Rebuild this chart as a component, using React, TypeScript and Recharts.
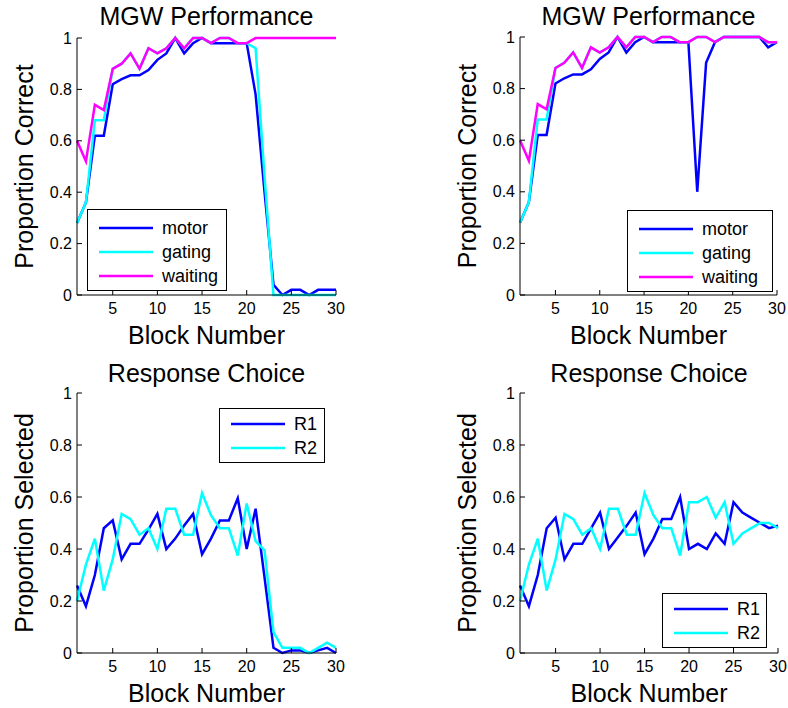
import { Label, Legend, Line, LineChart, XAxis, YAxis } from "recharts";

const blocks = [1, 2, 3, 4, 5, 6, 7, 8, 9, 10, 11, 12, 13, 14, 15, 16, 17, 18, 19, 20, 21, 22, 23, 24, 25, 26, 27, 28, 29, 30];
const xTicks = [5, 10, 15, 20, 25, 30];
const yTicks = [0, 0.2, 0.4, 0.6, 0.8, 1];

// MGW performance, left panel
const motorA = [0.28, 0.36, 0.62, 0.62, 0.82, 0.84, 0.855, 0.855, 0.875, 0.915, 0.94, 1, 0.94, 0.98, 1, 0.98, 0.98, 0.98, 0.98, 0.98, 0.78, 0.4, 0.04, 0, 0.02, 0.02, 0, 0.02, 0.02, 0.02];
const gatingA = [0.28, 0.36, 0.68, 0.68, 0.88, 0.9, 0.94, 0.88, 0.96, 0.94, 0.96, 1, 0.96, 1, 1, 0.98, 1, 1, 0.98, 0.98, 0.96, 0.46, 0, 0, 0, 0, 0, 0, 0, 0];
const waitingA = [0.6, 0.52, 0.74, 0.72, 0.88, 0.9, 0.94, 0.88, 0.96, 0.94, 0.96, 1, 0.96, 1, 1, 0.98, 1, 1, 0.98, 0.98, 1, 1, 1, 1, 1, 1, 1, 1, 1, 1];

// MGW performance, right panel
const motorB = [0.28, 0.36, 0.62, 0.62, 0.82, 0.84, 0.855, 0.855, 0.875, 0.915, 0.94, 1, 0.94, 0.98, 1, 0.98, 0.98, 0.98, 0.98, 0.98, 0.4, 0.9, 0.98, 1, 1, 1, 1, 1, 0.96, 0.98];
const gatingB = [0.28, 0.36, 0.68, 0.68, 0.88, 0.9, 0.94, 0.88, 0.96, 0.94, 0.96, 1, 0.96, 1, 1, 0.98, 1, 1, 0.98, 0.98, 1, 1, 0.98, 1, 1, 1, 1, 1, 0.98, 0.98];
const waitingB = [0.6, 0.52, 0.74, 0.72, 0.88, 0.9, 0.94, 0.88, 0.96, 0.94, 0.96, 1, 0.96, 1, 1, 0.98, 1, 1, 0.98, 0.98, 1, 1, 0.98, 1, 1, 1, 1, 1, 0.98, 0.98];

// Response choice, left panel
const r1A = [0.26, 0.18, 0.3, 0.48, 0.51, 0.36, 0.42, 0.42, 0.475, 0.535, 0.4, 0.44, 0.49, 0.535, 0.38, 0.44, 0.51, 0.51, 0.595, 0.4, 0.555, 0.29, 0.02, 0, 0.01, 0.01, 0, 0.01, 0.02, 0];
const r2A = [0.2, 0.34, 0.44, 0.24, 0.36, 0.535, 0.515, 0.455, 0.48, 0.4, 0.555, 0.555, 0.455, 0.455, 0.615, 0.53, 0.48, 0.48, 0.375, 0.575, 0.43, 0.395, 0.08, 0.02, 0.02, 0.02, 0, 0.02, 0.04, 0.02];

// Response choice, right panel
const r1B = [0.26, 0.18, 0.3, 0.48, 0.52, 0.36, 0.42, 0.42, 0.48, 0.54, 0.4, 0.445, 0.49, 0.54, 0.38, 0.44, 0.515, 0.515, 0.6, 0.4, 0.42, 0.4, 0.46, 0.42, 0.58, 0.54, 0.52, 0.5, 0.48, 0.49];
const r2B = [0.2, 0.34, 0.44, 0.24, 0.36, 0.535, 0.515, 0.455, 0.48, 0.4, 0.555, 0.555, 0.455, 0.455, 0.615, 0.53, 0.48, 0.48, 0.375, 0.58, 0.58, 0.6, 0.52, 0.58, 0.42, 0.46, 0.48, 0.5, 0.5, 0.48];

const BLUE = "#0000ff";
const CYAN = "#00ffff";
const MAGENTA = "#ff00ff";
const FONT = '"Liberation Sans", Arial, Helvetica, sans-serif';

type Series = { key: string; name: string; color: string; values: number[] };

function rows(series: Series[]) {
  return blocks.map((b, i) => {
    const row: Record<string, number> = { block: b };
    series.forEach((s) => (row[s.key] = s.values[i]));
    return row;
  });
}

function fmtY(v: number) {
  return v === 0 || v === 1 ? String(v) : v.toFixed(1);
}

function YTitle(props: any) {
  const { viewBox, value } = props;
  const x = viewBox.x + 6;
  const y = viewBox.y + viewBox.height / 2;
  return (
    <text x={x} y={y} transform={`rotate(-90 ${x} ${y})`} textAnchor="middle" fontSize={25} fill="#000">
      {value}
    </text>
  );
}

// keeps legend rows in the order the series were plotted
function LegendBox(props: any) {
  const { payload, padTop, order } = props;
  const items = [...(payload || [])].sort((a: any, b: any) => order.indexOf(a.value) - order.indexOf(b.value));
  return (
    <div style={{ border: "1px solid #000", background: "#fff", paddingTop: padTop, paddingBottom: 2 }}>
      {items.map((p: any) => (
        <div key={p.value} style={{ display: "flex", alignItems: "center", height: 24 }}>
          <svg width={74} height={24} style={{ flex: "none" }}>
            <line x1={11} x2={65} y1={12} y2={12} stroke={p.color} strokeWidth={2.5} />
          </svg>
          <span style={{ fontSize: 18, lineHeight: "24px", color: "#000" }}>{p.value}</span>
        </div>
      ))}
    </div>
  );
}

type PanelProps = {
  left: number;
  top: number;
  w: number;
  h: number;
  title: string;
  titleTop: number;
  yLabel: string;
  series: Series[];
  legend: { left: number; top: number; width: number; padTop: number };
};

function Panel({ left, top, w, h, title, titleTop, yLabel, series, legend }: PanelProps) {
  const data = rows(series);
  const tickStyle = { fontSize: 16, fill: "#000" };
  const order = series.map((s) => s.name);
  return (
    <>
      <div
        style={{
          position: "absolute",
          left,
          width: w,
          top: titleTop,
          textAlign: "center",
          fontSize: 25,
          lineHeight: "25px",
          whiteSpace: "nowrap",
        }}
      >
        {title}
      </div>
      <div style={{ position: "absolute", left: left - 75, top: top - 40 }}>
        <LineChart width={w + 87} height={h + 95} data={data} margin={{ top: 40, right: 12, bottom: 25, left: 25 }}>
          <XAxis
            dataKey="block"
            type="number"
            domain={[1, 30]}
            ticks={xTicks}
            interval={0}
            height={30}
            tickSize={-5}
            tickMargin={13}
            tick={tickStyle}
            axisLine={{ stroke: "#000" }}
            tickLine={{ stroke: "#000" }}
          >
            <Label value="Block Number" position="bottom" offset={1} fontSize={25} fill="#000" />
          </XAxis>
          <XAxis
            xAxisId="top"
            orientation="top"
            dataKey="block"
            type="number"
            domain={[1, 30]}
            ticks={xTicks}
            interval={0}
            height={0}
            tickSize={-5}
            tick={false}
            axisLine={{ stroke: "#000" }}
            tickLine={{ stroke: "#000" }}
          />
          <YAxis
            type="number"
            domain={[0, 1]}
            ticks={yTicks}
            interval={0}
            width={50}
            tickSize={-5}
            tickMargin={10}
            tick={tickStyle}
            tickFormatter={fmtY}
            axisLine={{ stroke: "#000" }}
            tickLine={{ stroke: "#000" }}
          >
            <Label value={yLabel} content={<YTitle value={yLabel} />} />
          </YAxis>
          <YAxis
            yAxisId="right"
            orientation="right"
            type="number"
            domain={[0, 1]}
            ticks={yTicks}
            interval={0}
            width={0}
            tickSize={-5}
            tick={false}
            axisLine={{ stroke: "#000" }}
            tickLine={{ stroke: "#000" }}
          />
          <Legend
            layout="vertical"
            align="center"
            verticalAlign="middle"
            wrapperStyle={{ left: legend.left, top: legend.top, width: legend.width }}
            content={(p: any) => <LegendBox {...p} padTop={legend.padTop} order={order} />}
          />
          {series.map((s) => (
            <Line
              key={s.key}
              dataKey={s.key}
              name={s.name}
              type="linear"
              stroke={s.color}
              strokeWidth={2.5}
              dot={false}
              activeDot={false}
              isAnimationActive={false}
            />
          ))}
        </LineChart>
      </div>
    </>
  );
}

export default function App() {
  return (
    <div style={{ position: "absolute", left: 0, top: 0, width: 788, height: 708, background: "#fff", fontFamily: FONT }}>
      <Panel
        left={77}
        top={38}
        w={259}
        h={257}
        title="MGW Performance"
        titleTop={4}
        yLabel="Proportion Correct"
        series={[
          { key: "motor", name: "motor", color: BLUE, values: motorA },
          { key: "gating", name: "gating", color: CYAN, values: gatingA },
          { key: "waiting", name: "waiting", color: MAGENTA, values: waitingA },
        ]}
        legend={{ left: 85, top: 211, width: 140, padTop: 6 }}
      />
      <Panel
        left={520}
        top={37}
        w={257}
        h={258}
        title="MGW Performance"
        titleTop={4}
        yLabel="Proportion Correct"
        series={[
          { key: "motor", name: "motor", color: BLUE, values: motorB },
          { key: "gating", name: "gating", color: CYAN, values: gatingB },
          { key: "waiting", name: "waiting", color: MAGENTA, values: waitingB },
        ]}
        legend={{ left: 182, top: 213, width: 146, padTop: 6 }}
      />
      <Panel
        left={77}
        top={393}
        w={259}
        h={260}
        title="Response Choice"
        titleTop={361}
        yLabel="Proportion Selected"
        series={[
          { key: "r1", name: "R1", color: BLUE, values: r1A },
          { key: "r2", name: "R2", color: CYAN, values: r2A },
        ]}
        legend={{ left: 217, top: 55, width: 106, padTop: 3 }}
      />
      <Panel
        left={520}
        top={393}
        w={258}
        h={260}
        title="Response Choice"
        titleTop={361}
        yLabel="Proportion Selected"
        series={[
          { key: "r1", name: "R1", color: BLUE, values: r1B },
          { key: "r2", name: "R2", color: CYAN, values: r2B },
        ]}
        legend={{ left: 217, top: 240, width: 105, padTop: 3 }}
      />
    </div>
  );
}
